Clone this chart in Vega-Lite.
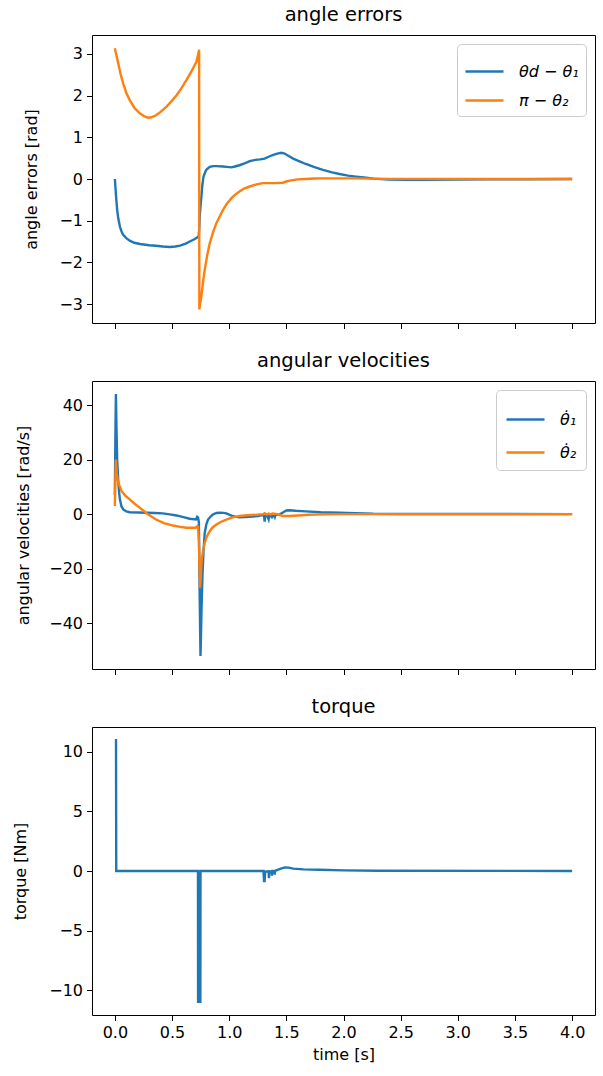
{
  "$schema": "https://vega.github.io/schema/vega-lite/v6.json",
  "padding": {"left": 12, "top": 4, "right": 5, "bottom": 5},
  "spacing": 20,
  "datasets": {
    "angles": [
      {"t": 0, "s": "θd − θ₁", "v": 0},
      {"t": 0.01, "s": "θd − θ₁", "v": -0.4},
      {"t": 0.02, "s": "θd − θ₁", "v": -0.74},
      {"t": 0.03, "s": "θd − θ₁", "v": -0.95},
      {"t": 0.044, "s": "θd − θ₁", "v": -1.14},
      {"t": 0.06, "s": "θd − θ₁", "v": -1.27},
      {"t": 0.073, "s": "θd − θ₁", "v": -1.34},
      {"t": 0.1, "s": "θd − θ₁", "v": -1.42},
      {"t": 0.13, "s": "θd − θ₁", "v": -1.48},
      {"t": 0.17, "s": "θd − θ₁", "v": -1.53},
      {"t": 0.22, "s": "θd − θ₁", "v": -1.56},
      {"t": 0.3, "s": "θd − θ₁", "v": -1.59},
      {"t": 0.36, "s": "θd − θ₁", "v": -1.6},
      {"t": 0.42, "s": "θd − θ₁", "v": -1.62},
      {"t": 0.48, "s": "θd − θ₁", "v": -1.63},
      {"t": 0.53, "s": "θd − θ₁", "v": -1.62},
      {"t": 0.57, "s": "θd − θ₁", "v": -1.6},
      {"t": 0.62, "s": "θd − θ₁", "v": -1.55},
      {"t": 0.655, "s": "θd − θ₁", "v": -1.5},
      {"t": 0.7, "s": "θd − θ₁", "v": -1.44},
      {"t": 0.733, "s": "θd − θ₁", "v": -1.38},
      {"t": 0.738, "s": "θd − θ₁", "v": -1.2},
      {"t": 0.742, "s": "θd − θ₁", "v": -0.9},
      {"t": 0.75, "s": "θd − θ₁", "v": -0.62},
      {"t": 0.757, "s": "θd − θ₁", "v": -0.42},
      {"t": 0.765, "s": "θd − θ₁", "v": -0.15},
      {"t": 0.775, "s": "θd − θ₁", "v": 0.05},
      {"t": 0.79, "s": "θd − θ₁", "v": 0.16},
      {"t": 0.8, "s": "θd − θ₁", "v": 0.22},
      {"t": 0.83, "s": "θd − θ₁", "v": 0.29},
      {"t": 0.86, "s": "θd − θ₁", "v": 0.31},
      {"t": 0.89, "s": "θd − θ₁", "v": 0.31},
      {"t": 0.946, "s": "θd − θ₁", "v": 0.3},
      {"t": 0.98, "s": "θd − θ₁", "v": 0.29},
      {"t": 1.02, "s": "θd − θ₁", "v": 0.28},
      {"t": 1.05, "s": "θd − θ₁", "v": 0.3},
      {"t": 1.09, "s": "θd − θ₁", "v": 0.33},
      {"t": 1.14, "s": "θd − θ₁", "v": 0.38},
      {"t": 1.18, "s": "θd − θ₁", "v": 0.43},
      {"t": 1.23, "s": "θd − θ₁", "v": 0.46},
      {"t": 1.27, "s": "θd − θ₁", "v": 0.47},
      {"t": 1.31, "s": "θd − θ₁", "v": 0.49},
      {"t": 1.35, "s": "θd − θ₁", "v": 0.54},
      {"t": 1.38, "s": "θd − θ₁", "v": 0.57},
      {"t": 1.42, "s": "θd − θ₁", "v": 0.61},
      {"t": 1.455, "s": "θd − θ₁", "v": 0.63},
      {"t": 1.485, "s": "θd − θ₁", "v": 0.61},
      {"t": 1.52, "s": "θd − θ₁", "v": 0.55},
      {"t": 1.56, "s": "θd − θ₁", "v": 0.49},
      {"t": 1.61, "s": "θd − θ₁", "v": 0.43},
      {"t": 1.67, "s": "θd − θ₁", "v": 0.36},
      {"t": 1.74, "s": "θd − θ₁", "v": 0.29},
      {"t": 1.82, "s": "θd − θ₁", "v": 0.22},
      {"t": 1.9, "s": "θd − θ₁", "v": 0.16},
      {"t": 1.965, "s": "θd − θ₁", "v": 0.12},
      {"t": 2.04, "s": "θd − θ₁", "v": 0.08},
      {"t": 2.11, "s": "θd − θ₁", "v": 0.056},
      {"t": 2.2, "s": "θd − θ₁", "v": 0.03},
      {"t": 2.26, "s": "θd − θ₁", "v": 0.01},
      {"t": 2.4, "s": "θd − θ₁", "v": -0.016},
      {"t": 2.55, "s": "θd − θ₁", "v": -0.02},
      {"t": 2.69, "s": "θd − θ₁", "v": -0.02},
      {"t": 2.98, "s": "θd − θ₁", "v": -0.016},
      {"t": 3.27, "s": "θd − θ₁", "v": -0.01},
      {"t": 3.6, "s": "θd − θ₁", "v": -0.005},
      {"t": 4.0, "s": "θd − θ₁", "v": 0},
      {"t": 0, "s": "π − θ₂", "v": 3.14},
      {"t": 0.015, "s": "π − θ₂", "v": 2.95},
      {"t": 0.03, "s": "π − θ₂", "v": 2.77},
      {"t": 0.05, "s": "π − θ₂", "v": 2.52},
      {"t": 0.073, "s": "π − θ₂", "v": 2.29},
      {"t": 0.1, "s": "π − θ₂", "v": 2.07},
      {"t": 0.13, "s": "π − θ₂", "v": 1.89},
      {"t": 0.17, "s": "π − θ₂", "v": 1.71},
      {"t": 0.22, "s": "π − θ₂", "v": 1.57},
      {"t": 0.26, "s": "π − θ₂", "v": 1.5},
      {"t": 0.29, "s": "π − θ₂", "v": 1.47},
      {"t": 0.32, "s": "π − θ₂", "v": 1.48},
      {"t": 0.36, "s": "π − θ₂", "v": 1.53},
      {"t": 0.4, "s": "π − θ₂", "v": 1.61},
      {"t": 0.45, "s": "π − θ₂", "v": 1.73},
      {"t": 0.5, "s": "π − θ₂", "v": 1.88},
      {"t": 0.54, "s": "π − θ₂", "v": 2.01},
      {"t": 0.58, "s": "π − θ₂", "v": 2.17},
      {"t": 0.626, "s": "π − θ₂", "v": 2.37},
      {"t": 0.67, "s": "π − θ₂", "v": 2.58},
      {"t": 0.713, "s": "π − θ₂", "v": 2.81},
      {"t": 0.734, "s": "π − θ₂", "v": 3.05},
      {"t": 0.737, "s": "π − θ₂", "v": 3.1},
      {"t": 0.739, "s": "π − θ₂", "v": -3.13},
      {"t": 0.745, "s": "π − θ₂", "v": -3.0},
      {"t": 0.757, "s": "π − θ₂", "v": -2.81},
      {"t": 0.77, "s": "π − θ₂", "v": -2.5},
      {"t": 0.786, "s": "π − θ₂", "v": -2.18},
      {"t": 0.81, "s": "π − θ₂", "v": -1.8},
      {"t": 0.83, "s": "π − θ₂", "v": -1.54},
      {"t": 0.86, "s": "π − θ₂", "v": -1.27},
      {"t": 0.888, "s": "π − θ₂", "v": -1.06},
      {"t": 0.92, "s": "π − θ₂", "v": -0.88},
      {"t": 0.946, "s": "π − θ₂", "v": -0.74},
      {"t": 0.98, "s": "π − θ₂", "v": -0.59},
      {"t": 1.02, "s": "π − θ₂", "v": -0.46},
      {"t": 1.05, "s": "π − θ₂", "v": -0.38},
      {"t": 1.09, "s": "π − θ₂", "v": -0.3},
      {"t": 1.13, "s": "π − θ₂", "v": -0.23},
      {"t": 1.18, "s": "π − θ₂", "v": -0.18},
      {"t": 1.24, "s": "π − θ₂", "v": -0.13},
      {"t": 1.295, "s": "π − θ₂", "v": -0.1},
      {"t": 1.38, "s": "π − θ₂", "v": -0.1},
      {"t": 1.47, "s": "π − θ₂", "v": -0.09},
      {"t": 1.5, "s": "π − θ₂", "v": -0.06},
      {"t": 1.53, "s": "π − θ₂", "v": -0.04},
      {"t": 1.6, "s": "π − θ₂", "v": -0.01},
      {"t": 1.67, "s": "π − θ₂", "v": 0.0},
      {"t": 1.75, "s": "π − θ₂", "v": 0.012},
      {"t": 1.82, "s": "π − θ₂", "v": 0.016},
      {"t": 2.11, "s": "π − θ₂", "v": 0.016},
      {"t": 2.4, "s": "π − θ₂", "v": 0.003},
      {"t": 4.0, "s": "π − θ₂", "v": 0}
    ],
    "vel": [
      {"t": 0, "s": "θ̇₁", "v": 7},
      {"t": 0.005, "s": "θ̇₁", "v": 30},
      {"t": 0.009, "s": "θ̇₁", "v": 44},
      {"t": 0.014, "s": "θ̇₁", "v": 32},
      {"t": 0.02, "s": "θ̇₁", "v": 20},
      {"t": 0.03, "s": "θ̇₁", "v": 12},
      {"t": 0.037, "s": "θ̇₁", "v": 8},
      {"t": 0.044, "s": "θ̇₁", "v": 5.4},
      {"t": 0.058, "s": "θ̇₁", "v": 2.8},
      {"t": 0.073, "s": "θ̇₁", "v": 1.7},
      {"t": 0.1, "s": "θ̇₁", "v": 1.0},
      {"t": 0.13, "s": "θ̇₁", "v": 0.7},
      {"t": 0.2, "s": "θ̇₁", "v": 0.6},
      {"t": 0.28, "s": "θ̇₁", "v": 0.5},
      {"t": 0.35, "s": "θ̇₁", "v": 0.4},
      {"t": 0.42, "s": "θ̇₁", "v": 0.25},
      {"t": 0.48, "s": "θ̇₁", "v": -0.1},
      {"t": 0.54, "s": "θ̇₁", "v": -0.5},
      {"t": 0.6, "s": "θ̇₁", "v": -1.1},
      {"t": 0.655, "s": "θ̇₁", "v": -1.7},
      {"t": 0.71, "s": "θ̇₁", "v": -2.0},
      {"t": 0.72, "s": "θ̇₁", "v": -1.0},
      {"t": 0.728, "s": "θ̇₁", "v": -1.3},
      {"t": 0.735, "s": "θ̇₁", "v": -3},
      {"t": 0.742, "s": "θ̇₁", "v": -30},
      {"t": 0.749, "s": "θ̇₁", "v": -52},
      {"t": 0.753, "s": "θ̇₁", "v": -45},
      {"t": 0.758, "s": "θ̇₁", "v": -35},
      {"t": 0.766, "s": "θ̇₁", "v": -22.8},
      {"t": 0.775, "s": "θ̇₁", "v": -14},
      {"t": 0.786, "s": "θ̇₁", "v": -6.9},
      {"t": 0.8, "s": "θ̇₁", "v": -3.8},
      {"t": 0.815, "s": "θ̇₁", "v": -2},
      {"t": 0.84, "s": "θ̇₁", "v": -0.8},
      {"t": 0.86, "s": "θ̇₁", "v": -0.1},
      {"t": 0.89, "s": "θ̇₁", "v": 0.4},
      {"t": 0.917, "s": "θ̇₁", "v": 0.5},
      {"t": 0.95, "s": "θ̇₁", "v": 0.45},
      {"t": 0.975, "s": "θ̇₁", "v": 0.25},
      {"t": 1.0, "s": "θ̇₁", "v": -0.2},
      {"t": 1.03, "s": "θ̇₁", "v": -0.7},
      {"t": 1.06, "s": "θ̇₁", "v": -1.0},
      {"t": 1.09, "s": "θ̇₁", "v": -1.2},
      {"t": 1.14, "s": "θ̇₁", "v": -1.1},
      {"t": 1.18, "s": "θ̇₁", "v": -1.0},
      {"t": 1.25, "s": "θ̇₁", "v": -0.7},
      {"t": 1.295, "s": "θ̇₁", "v": -0.4},
      {"t": 1.305, "s": "θ̇₁", "v": -0.6},
      {"t": 1.31, "s": "θ̇₁", "v": -2.8},
      {"t": 1.315, "s": "θ̇₁", "v": -0.8},
      {"t": 1.335, "s": "θ̇₁", "v": -0.8},
      {"t": 1.345, "s": "θ̇₁", "v": -1.9},
      {"t": 1.35, "s": "θ̇₁", "v": -0.7},
      {"t": 1.37, "s": "θ̇₁", "v": -0.6},
      {"t": 1.375, "s": "θ̇₁", "v": -1.5},
      {"t": 1.38, "s": "θ̇₁", "v": -0.5},
      {"t": 1.395, "s": "θ̇₁", "v": -0.4},
      {"t": 1.4, "s": "θ̇₁", "v": -1.0},
      {"t": 1.405, "s": "θ̇₁", "v": -0.3},
      {"t": 1.44, "s": "θ̇₁", "v": -0.2},
      {"t": 1.47, "s": "θ̇₁", "v": 0.6},
      {"t": 1.5, "s": "θ̇₁", "v": 1.3},
      {"t": 1.53, "s": "θ̇₁", "v": 1.4},
      {"t": 1.58, "s": "θ̇₁", "v": 1.2},
      {"t": 1.67, "s": "θ̇₁", "v": 1.0},
      {"t": 1.8, "s": "θ̇₁", "v": 0.7},
      {"t": 1.965, "s": "θ̇₁", "v": 0.5},
      {"t": 2.1, "s": "θ̇₁", "v": 0.3},
      {"t": 2.26, "s": "θ̇₁", "v": 0.1},
      {"t": 2.5, "s": "θ̇₁", "v": 0.03},
      {"t": 4.0, "s": "θ̇₁", "v": 0},
      {"t": 0, "s": "θ̇₂", "v": 3},
      {"t": 0.004, "s": "θ̇₂", "v": 12},
      {"t": 0.009, "s": "θ̇₂", "v": 20},
      {"t": 0.015, "s": "θ̇₂", "v": 15},
      {"t": 0.03, "s": "θ̇₂", "v": 11.5},
      {"t": 0.058, "s": "θ̇₂", "v": 8.5},
      {"t": 0.09, "s": "θ̇₂", "v": 6.8},
      {"t": 0.13, "s": "θ̇₂", "v": 5.4},
      {"t": 0.17, "s": "θ̇₂", "v": 3.9},
      {"t": 0.22, "s": "θ̇₂", "v": 2.3},
      {"t": 0.28, "s": "θ̇₂", "v": 0.2},
      {"t": 0.36, "s": "θ̇₂", "v": -2},
      {"t": 0.43, "s": "θ̇₂", "v": -3.3},
      {"t": 0.51, "s": "θ̇₂", "v": -4.2},
      {"t": 0.57, "s": "θ̇₂", "v": -4.7},
      {"t": 0.626, "s": "θ̇₂", "v": -5.0},
      {"t": 0.707, "s": "θ̇₂", "v": -5.0},
      {"t": 0.722, "s": "θ̇₂", "v": -4.4},
      {"t": 0.728, "s": "θ̇₂", "v": -4.6},
      {"t": 0.735, "s": "θ̇₂", "v": -10},
      {"t": 0.742, "s": "θ̇₂", "v": -22},
      {"t": 0.745, "s": "θ̇₂", "v": -27},
      {"t": 0.75, "s": "θ̇₂", "v": -24},
      {"t": 0.757, "s": "θ̇₂", "v": -18},
      {"t": 0.77, "s": "θ̇₂", "v": -13.5},
      {"t": 0.786, "s": "θ̇₂", "v": -10.5},
      {"t": 0.805, "s": "θ̇₂", "v": -8.2},
      {"t": 0.83, "s": "θ̇₂", "v": -6.3},
      {"t": 0.855, "s": "θ̇₂", "v": -4.9},
      {"t": 0.888, "s": "θ̇₂", "v": -3.8},
      {"t": 0.93, "s": "θ̇₂", "v": -2.8},
      {"t": 0.975, "s": "θ̇₂", "v": -2.0},
      {"t": 1.03, "s": "θ̇₂", "v": -1.2},
      {"t": 1.09, "s": "θ̇₂", "v": -0.7},
      {"t": 1.16, "s": "θ̇₂", "v": -0.4},
      {"t": 1.24, "s": "θ̇₂", "v": -0.25},
      {"t": 1.3, "s": "θ̇₂", "v": 0.0},
      {"t": 1.31, "s": "θ̇₂", "v": 0.3},
      {"t": 1.33, "s": "θ̇₂", "v": -0.2},
      {"t": 1.345, "s": "θ̇₂", "v": 0.2},
      {"t": 1.36, "s": "θ̇₂", "v": -0.1},
      {"t": 1.38, "s": "θ̇₂", "v": 0.2},
      {"t": 1.42, "s": "θ̇₂", "v": 0.0},
      {"t": 1.47, "s": "θ̇₂", "v": -0.7},
      {"t": 1.53, "s": "θ̇₂", "v": -0.7},
      {"t": 1.6, "s": "θ̇₂", "v": -0.5},
      {"t": 1.7, "s": "θ̇₂", "v": -0.25},
      {"t": 1.82, "s": "θ̇₂", "v": -0.1},
      {"t": 2.0, "s": "θ̇₂", "v": -0.02},
      {"t": 4.0, "s": "θ̇₂", "v": 0}
    ],
    "torque": [
      {"t": 0, "v": 11},
      {"t": 0.01, "v": 11},
      {"t": 0.012, "v": 0},
      {"t": 0.727, "v": 0},
      {"t": 0.728, "v": -11},
      {"t": 0.731, "v": -11},
      {"t": 0.732, "v": 0},
      {"t": 0.734, "v": -11},
      {"t": 0.736, "v": 0},
      {"t": 0.738, "v": -11},
      {"t": 0.74, "v": 0},
      {"t": 0.742, "v": -11},
      {"t": 0.744, "v": 0},
      {"t": 0.746, "v": -11},
      {"t": 0.748, "v": -11},
      {"t": 0.749, "v": 0},
      {"t": 1.3, "v": 0},
      {"t": 1.305, "v": -0.85},
      {"t": 1.31, "v": -0.85},
      {"t": 1.315, "v": -0.05},
      {"t": 1.345, "v": -0.03},
      {"t": 1.348, "v": -0.6},
      {"t": 1.352, "v": -0.05},
      {"t": 1.372, "v": -0.02},
      {"t": 1.374, "v": -0.4},
      {"t": 1.378, "v": 0},
      {"t": 1.396, "v": 0},
      {"t": 1.398, "v": -0.3},
      {"t": 1.402, "v": 0.02},
      {"t": 1.44, "v": 0.15},
      {"t": 1.485, "v": 0.3},
      {"t": 1.52, "v": 0.28},
      {"t": 1.56, "v": 0.2},
      {"t": 1.65, "v": 0.14},
      {"t": 1.79, "v": 0.1},
      {"t": 2.0, "v": 0.05},
      {"t": 2.3, "v": 0.02},
      {"t": 4.0, "v": 0}
    ]
  },
  "vconcat": [
    {
      "title": "angle errors",
      "width": 503,
      "height": 288,
      "data": {"name": "angles"},
      "mark": {"type": "line", "strokeWidth": 2.4, "clip": true},
      "encoding": {
        "x": {"field": "t", "type": "quantitative", "scale": {"domain": [-0.2, 4.2], "nice": false, "zero": false},
              "axis": {"values": [0, 0.5, 1, 1.5, 2, 2.5, 3, 3.5, 4], "labels": false, "title": null}},
        "y": {"field": "v", "type": "quantitative", "scale": {"domain": [-3.455, 3.455], "nice": false},
              "axis": {"values": [-3, -2, -1, 0, 1, 2, 3], "title": "angle errors [rad]", "titlePadding": 19}},
        "color": {"field": "s", "type": "nominal",
                  "scale": {"domain": ["θd − θ₁", "π − θ₂"], "range": ["#1f77b4", "#ff7f0e"]},
                  "legend": {"title": null, "rowPadding": 0}}
      }
    },
    {
      "title": "angular velocities",
      "width": 503,
      "height": 288,
      "data": {"name": "vel"},
      "mark": {"type": "line", "strokeWidth": 2.4, "clip": true},
      "encoding": {
        "x": {"field": "t", "type": "quantitative", "scale": {"domain": [-0.2, 4.2], "nice": false, "zero": false},
              "axis": {"values": [0, 0.5, 1, 1.5, 2, 2.5, 3, 3.5, 4], "labels": false, "title": null}},
        "y": {"field": "v", "type": "quantitative", "scale": {"domain": [-56.8, 48.8], "nice": false},
              "axis": {"values": [-40, -20, 0, 20, 40], "title": "angular velocities [rad/s]", "titlePadding": 17}},
        "color": {"field": "s", "type": "nominal",
                  "scale": {"domain": ["θ̇₁", "θ̇₂"], "range": ["#1f77b4", "#ff7f0e"]},
                  "legend": {"title": null, "rowPadding": 4, "padding": 9}}
      }
    },
    {
      "title": "torque",
      "width": 503,
      "height": 288,
      "data": {"name": "torque"},
      "mark": {"type": "line", "strokeWidth": 2.4, "color": "#1f77b4", "clip": true},
      "encoding": {
        "x": {"field": "t", "type": "quantitative", "scale": {"domain": [-0.2, 4.2], "nice": false, "zero": false},
              "axis": {"values": [0, 0.5, 1, 1.5, 2, 2.5, 3, 3.5, 4], "format": ".1f", "title": "time [s]"}},
        "y": {"field": "v", "type": "quantitative", "scale": {"domain": [-12.1, 12.1], "nice": false},
              "axis": {"values": [-10, -5, 0, 5, 10], "title": "torque [Nm]", "titlePadding": 20}}
      }
    }
  ],
  "resolve": {"scale": {"color": "independent", "y": "independent"}, "legend": {"color": "independent"}},
  "config": {
    "font": "DejaVu Sans",
    "view": {"stroke": "black", "strokeWidth": 1},
    "title": {"font": "DejaVu Sans", "fontSize": 19.5, "fontWeight": "normal", "color": "black", "baseline": "alphabetic", "offset": 9.5},
    "axis": {
      "domain": false, "grid": false,
      "tickColor": "black", "tickSize": 5.5, "tickWidth": 1,
      "labelFont": "DejaVu Sans", "labelFontSize": 16, "labelColor": "black", "labelPadding": 4,
      "titleFont": "DejaVu Sans", "titleFontSize": 16, "titleFontWeight": "normal", "titleColor": "black", "titlePadding": 6
    },
    "legend": {
      "orient": "top-right", "offset": 9, "padding": 7,
      "strokeColor": "#cccccc", "fillColor": "rgba(255,255,255,0.8)", "cornerRadius": 4,
      "symbolType": "stroke", "symbolSize": 1444, "symbolStrokeWidth": 2.4,
      "labelFont": "DejaVu Sans", "labelFontSize": 16, "labelFontStyle": "italic", "labelColor": "black",
      "labelOffset": 14
    }
  }
}
